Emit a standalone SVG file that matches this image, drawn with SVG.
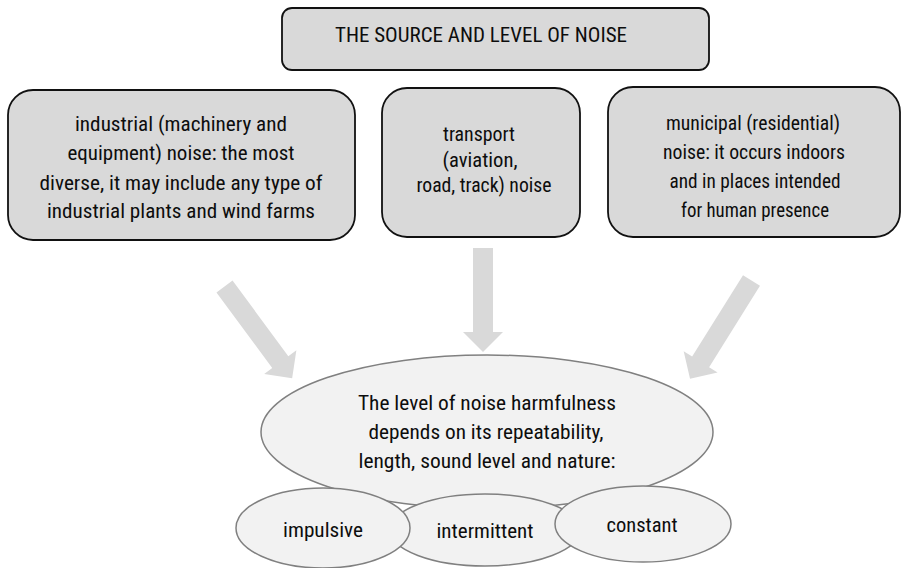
<svg xmlns="http://www.w3.org/2000/svg" xmlns:xlink="http://www.w3.org/1999/xlink" width="903" height="568" viewBox="0 0 903 568">
<style>
.box{fill:#d9d9d9;stroke:#111;stroke-width:1.8}
.ell{fill:#f2f2f2;stroke:#808080;stroke-width:1.5}
.arr{fill:#d9d9d9;stroke:none}
text{font-family:Roboto,"Liberation Sans",sans-serif;font-size:20.5px;fill:#0d0d0d;text-anchor:middle;font-stretch:condensed}
</style>
<defs>
<path id="a94" d="M-10,0 H10 V94 H20 L0,114 L-20,94 H-10 Z"/>
<path id="a96" d="M-10,0 H10 V96 H20 L0,116 L-20,96 H-10 Z"/>
<path id="a84" d="M-10,0 H10 V84 H20 L0,104 L-20,84 H-10 Z"/>
</defs>
<rect width="903" height="568" fill="#ffffff"/>
<g id="connectors">
<use xlink:href="#a94" class="arr" transform="translate(224.5,286.5) rotate(-36.4)"/>
<use xlink:href="#a84" class="arr" transform="translate(483,248)"/>
<use xlink:href="#a96" class="arr" transform="translate(751.5,280.5) rotate(32)"/>
</g>
<g id="title">
<rect class="box" x="282" y="8" width="427" height="62" rx="10"/>
<text x="481" y="42" textLength="292" lengthAdjust="spacingAndGlyphs">THE SOURCE AND LEVEL OF NOISE</text>
</g>
<g id="industrial">
<rect class="box" x="8" y="90" width="347" height="150" rx="25"/>
<text x="181" y="131" textLength="212" lengthAdjust="spacingAndGlyphs">industrial (machinery and</text>
<text x="181" y="160" textLength="227" lengthAdjust="spacingAndGlyphs">equipment) noise: the most</text>
<text x="181" y="190" textLength="283" lengthAdjust="spacingAndGlyphs">diverse, it may include any type of</text>
<text x="181" y="218" textLength="268" lengthAdjust="spacingAndGlyphs">industrial plants and wind farms</text>
</g>
<g id="transport">
<rect class="box" x="382" y="88" width="198" height="149" rx="25"/>
<text x="479" y="141" textLength="72" lengthAdjust="spacingAndGlyphs">transport</text>
<text x="480" y="167" textLength="75" lengthAdjust="spacingAndGlyphs">(aviation,</text>
<text x="484" y="192" textLength="135" lengthAdjust="spacingAndGlyphs">road, track) noise</text>
</g>
<g id="municipal">
<rect class="box" x="608" y="87" width="292" height="150" rx="25"/>
<text x="753" y="130" textLength="174" lengthAdjust="spacingAndGlyphs">municipal (residential)</text>
<text x="754" y="159" textLength="182" lengthAdjust="spacingAndGlyphs">noise: it occurs indoors</text>
<text x="755" y="188" textLength="171" lengthAdjust="spacingAndGlyphs">and in places intended</text>
<text x="755" y="217" textLength="148" lengthAdjust="spacingAndGlyphs">for human presence</text>
</g>
<g id="harmfulness">
<ellipse class="ell" cx="487" cy="432" rx="226" ry="77"/>
<text x="487" y="410" textLength="258" lengthAdjust="spacingAndGlyphs">The level of noise harmfulness</text>
<text x="486" y="439" textLength="235" lengthAdjust="spacingAndGlyphs">depends on its repeatability,</text>
<text x="487" y="468" textLength="257" lengthAdjust="spacingAndGlyphs">length, sound level and nature:</text>
</g>
<g id="intermittent">
<ellipse class="ell" cx="485" cy="530" rx="95" ry="36"/>
<text x="485" y="538" textLength="97" lengthAdjust="spacingAndGlyphs">intermittent</text>
</g>
<g id="impulsive">
<ellipse class="ell" cx="323" cy="528" rx="87" ry="40"/>
<text x="323" y="537" textLength="80" lengthAdjust="spacingAndGlyphs">impulsive</text>
</g>
<g id="constant">
<ellipse class="ell" cx="643" cy="524" rx="88" ry="38"/>
<text x="642" y="532" textLength="71" lengthAdjust="spacingAndGlyphs">constant</text>
</g>
</svg>
